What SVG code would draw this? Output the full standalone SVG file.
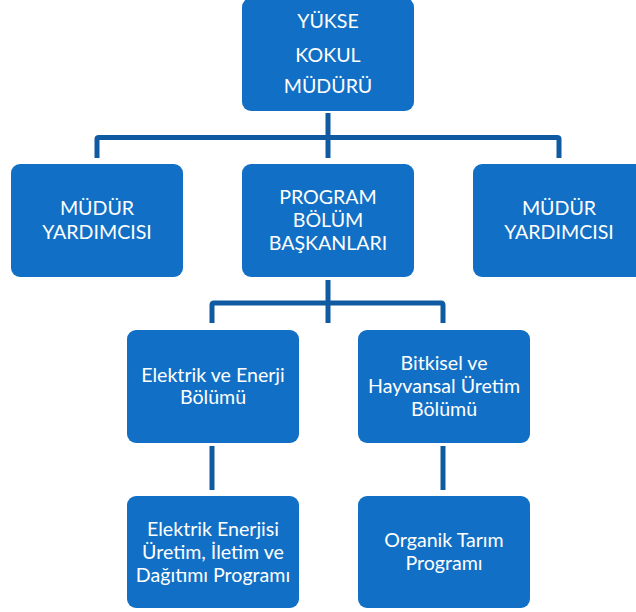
<svg xmlns="http://www.w3.org/2000/svg" width="636" height="612" viewBox="0 0 636 612">
<style>
.box{fill:#1170C5;}
.t{font-family:Lato,"Open Sans","Liberation Sans",sans-serif;font-size:19.6px;fill:#FFFFFF;text-anchor:middle;}
.c{fill:none;stroke:#0F5AA0;stroke-width:5;stroke-linejoin:round;}
</style>
<rect width="636" height="612" fill="#FFFFFF"/>
<g id="connectors">
<path class="c" d="M328 113 V158"/>
<path class="c" d="M97 158 V139 Q97 137.5 99 137.5 H557 Q559 137.5 559 139 V158"/>
<path class="c" d="M328 280 V323"/>
<path class="c" d="M212 323 V305 Q212 303 214 303 H441 Q443 303 443 305 V323"/>
<path class="c" d="M212 446 V490"/>
<path class="c" d="M443 446 V490"/>
</g>
<g id="n-mudur">
<rect class="box" x="242" y="-2" width="172" height="113" rx="9"/>
<text class="t" x="328" y="28">YÜKSE</text>
<text class="t" x="328" y="61.5">KOKUL</text>
<text class="t" x="328" y="93">MÜDÜRÜ</text>
</g>
<g id="n-yard-left">
<rect class="box" x="11" y="164" width="172" height="113" rx="9"/>
<text class="t" x="97" y="215">MÜDÜR</text>
<text class="t" x="97" y="238.5">YARDIMCISI</text>
</g>
<g id="n-program">
<rect class="box" x="242" y="164" width="172" height="113" rx="9"/>
<text class="t" x="328" y="203.5">PROGRAM</text>
<text class="t" x="328" y="227">BÖLÜM</text>
<text class="t" x="328" y="250">BAŞKANLARI</text>
</g>
<g id="n-yard-right">
<rect class="box" x="473" y="164" width="172" height="113" rx="9"/>
<text class="t" x="559" y="215">MÜDÜR</text>
<text class="t" x="559" y="238.5">YARDIMCISI</text>
</g>
<g id="n-elektrik-bolum">
<rect class="box" x="127" y="330" width="172" height="113" rx="9"/>
<text class="t" x="213" y="381.5">Elektrik ve Enerji</text>
<text class="t" x="213" y="404">Bölümü</text>
</g>
<g id="n-bitkisel-bolum">
<rect class="box" x="358" y="330" width="172" height="113" rx="9"/>
<text class="t" x="444" y="369.5">Bitkisel ve</text>
<text class="t" x="444" y="393">Hayvansal Üretim</text>
<text class="t" x="444" y="416">Bölümü</text>
</g>
<g id="n-elektrik-program">
<rect class="box" x="127" y="496" width="172" height="112" rx="9"/>
<text class="t" x="213" y="536">Elektrik Enerjisi</text>
<text class="t" x="213" y="558.5">Üretim, İletim ve</text>
<text class="t" x="213" y="581.5">Dağıtımı Programı</text>
</g>
<g id="n-organik-program">
<rect class="box" x="358" y="496" width="172" height="112" rx="9"/>
<text class="t" x="444" y="546.5">Organik Tarım</text>
<text class="t" x="444" y="569.5">Programı</text>
</g>
</svg>
